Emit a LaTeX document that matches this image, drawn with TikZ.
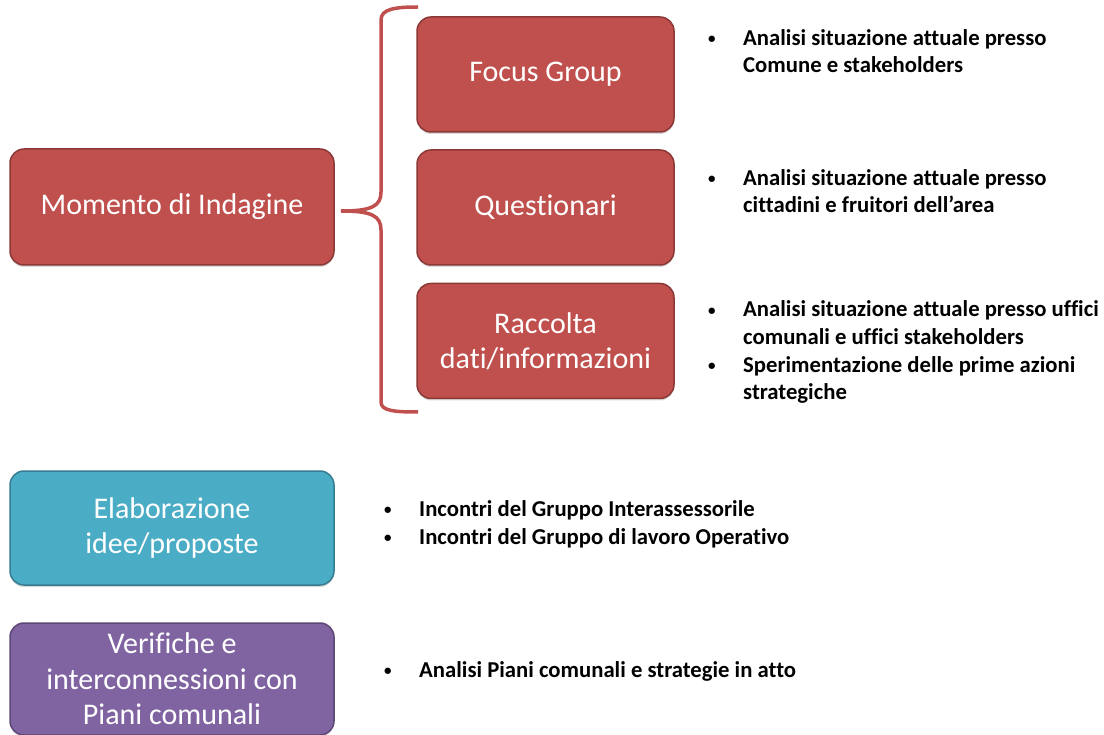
\documentclass[tikz,border=0pt]{standalone}
\usepackage{fontspec}
\setmainfont[Ligatures=NoCommon]{Carlito}
\usetikzlibrary{positioning, shadows}

\definecolor{boxred}{HTML}{C0504D}
\definecolor{boxredline}{HTML}{8C3836}
\definecolor{boxblue}{HTML}{4BACC6}
\definecolor{boxblueline}{HTML}{357D91}
\definecolor{boxpurple}{HTML}{8064A2}
\definecolor{boxpurpleline}{HTML}{5C4776}

% bullet and hanging indent for the note lists
\newcommand{\bitem}{\makebox[35pt][l]{\raisebox{1.5pt}{\fontsize{15}{15}\selectfont\textbullet}}}
\newcommand{\bskip}{\hspace*{35pt}}

\begin{document}
\begin{tikzpicture}[x=1pt, y=-1pt,
    phase/.style={rectangle, rounded corners=14pt, line width=1.5pt, text=white,
                  align=center, font=\fontsize{30}{35.5}\selectfont,
                  drop shadow={shadow xshift=0pt, shadow yshift=-2pt, opacity=0.3}},
    bigphase/.style={phase, minimum width=324pt, minimum height=116pt},
    subphase/.style={phase, minimum width=257pt, minimum height=115pt,
                     fill=boxred, draw=boxredline},
    notes/.style={anchor=base west, align=left, inner sep=0pt,
                  font=\bfseries\fontsize{22.7}{27.7}\selectfont},
    brace/.style={draw=boxred, line width=3.5pt}
]
    \useasboundingbox (0,0) rectangle (1104,735);

    % Main phase
    \node[bigphase, fill=boxred, draw=boxredline] (indagine) at (172, 207) {Momento di Indagine};

    % Sub phases
    \node[subphase] (focus) at (545.5, 74.5) {Focus Group};
    \node[subphase] (quest) at (545.5, 207.5) {Questionari};
    \node[subphase] (raccolta) at (545.5, 341) {Raccolta\\dati/informazioni};

    % Brace
    \draw[brace] (418, 7) .. controls (395, 7) and (381, 9) .. (381, 20)
        -- (381, 192) .. controls (381, 206) and (372, 211) .. (341, 211)
        .. controls (372, 211) and (381, 216) .. (381, 230)
        -- (381, 402) .. controls (381, 411) and (395, 412) .. (418, 412);

    % Other phases
    \node[bigphase, minimum height=114pt, fill=boxblue, draw=boxblueline] (elab) at (172, 528)
        {Elaborazione\\idee/proposte};
    \node[bigphase, minimum height=112pt, fill=boxpurple, draw=boxpurpleline] (verif) at (172, 679)
        {Verifiche e\\interconnessioni con\\Piani comunali};

    % Notes (placed at the baseline of their last line)
    \node[notes] (focusnotes) at (708, 73)
        {\bitem Analisi situazione attuale presso\\ \bskip Comune e stakeholders};
    \node[notes] (questnotes) at (708, 213)
        {\bitem Analisi situazione attuale presso\\ \bskip cittadini e fruitori dell’area};
    \node[notes] (raccoltanotes) at (708, 400)
        {\bitem Analisi situazione attuale presso uffici\\ \bskip comunali e uffici stakeholders\\
         \bitem Sperimentazione delle prime azioni\\ \bskip strategiche};
    \node[notes] (elabnotes) at (384, 544)
        {\bitem Incontri del Gruppo Interassessorile\\ \bitem Incontri del Gruppo di lavoro Operativo};
    \node[notes] (verifnotes) at (384, 677)
        {\bitem Analisi Piani comunali e strategie in atto};

\end{tikzpicture}
\end{document}
